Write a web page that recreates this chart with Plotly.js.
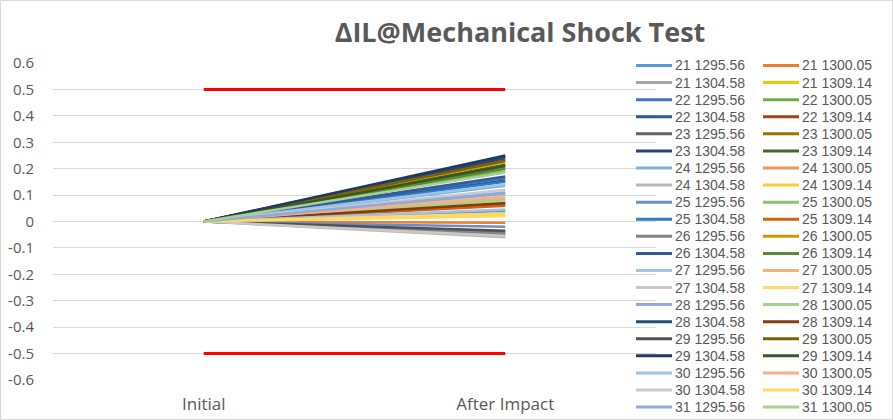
<!DOCTYPE html>
<html>
<head>
<meta charset="utf-8">
<script src="https://cdn.plot.ly/plotly-3.0.1.min.js"></script>
<style>
html,body{margin:0;padding:0;background:#fff;}
#chart{width:893px;height:420px;}
</style>
</head>
<body>
<div id="chart"></div>
<script>
// ---- data ----
const categories = ["Initial", "After Impact"];
const seriesNames = [
  "21 1295.56","21 1300.05","21 1304.58","21 1309.14",
  "22 1295.56","22 1300.05","22 1304.58","22 1309.14",
  "23 1295.56","23 1300.05","23 1304.58","23 1309.14",
  "24 1295.56","24 1300.05","24 1304.58","24 1309.14",
  "25 1295.56","25 1300.05","25 1304.58","25 1309.14",
  "26 1295.56","26 1300.05","26 1304.58","26 1309.14",
  "27 1295.56","27 1300.05","27 1304.58","27 1309.14",
  "28 1295.56","28 1300.05","28 1304.58","28 1309.14",
  "29 1295.56","29 1300.05","29 1304.58","29 1309.14",
  "30 1295.56","30 1300.05","30 1304.58","30 1309.14",
  "31 1295.56","31 1300.05"
];
const initialValues = [
  0,0,0,0, 0,0,0,0, 0,0,0,0, 0,0,0,0, 0,0,0,0,
  0,0,0,0, 0,0,0,0, 0,0,0,0, 0,0,0,0, 0,0,0,0, 0,0
];
const afterImpactValues = [
  0.04, -0.005, -0.05, 0.03,
  0.165, 0.205, 0.155, 0.065,
  -0.04, 0.235, 0.24, 0.215,
  0.135, 0.085, -0.06, 0.025,
  -0.02, 0.19, 0.15, 0.06,
  -0.045, 0.225, 0.17, 0.2,
  0.14, 0.09, 0.12, 0.02,
  0.105, 0.08, 0.245, 0.07,
  -0.035, 0.23, 0.25, 0.21,
  0.045, 0.095, -0.055, 0.03,
  0.11, 0.185
];
const upperLimit = [0.5, 0.5];
const lowerLimit = [-0.5, -0.5];
const yTickVals = [-0.6,-0.5,-0.4,-0.3,-0.2,-0.1,0,0.1,0.2,0.3,0.4,0.5,0.6];
const yTickText = ["-0.6","-0.5","-0.4","-0.3","-0.2","-0.1","0","0.1","0.2","0.3","0.4","0.5","0.6"];

// ---- styles ----
const palette = [
  "#5B9BD5","#ED7D31","#A5A5A5","#FFC000","#4472C4","#70AD47",
  "#255E91","#9E480E","#636363","#997300","#264478","#43682B",
  "#7CAFDD","#F1975A","#B7B7B7","#FFCD33","#698ED0","#8CC168",
  "#327DC2","#D26012","#848484","#CC9A00","#335AA1","#5A8A39",
  "#9DC3E6","#F4B183","#C9C9C9","#FFD966","#8FAADC","#A9D18E",
  "#1F4E79","#843C0C","#525252","#7F6000","#203864","#385723",
  "#9DC3E6","#F4B183","#C9C9C9","#FFD966","#8FAADC","#A9D18E"
];
const W = 893, H = 420;
const M = {l:53, r:237, t:63, b:40};
const pw = W - M.l - M.r, ph = H - M.t - M.b;
const px2x = p => (p - M.l) / pw;
const py2y = p => (H - M.b - p) / ph;
const FONT = "'Open Sans', sans-serif";
const LEGEND_FONT = "'Liberation Sans', Arial, sans-serif";
const GRAY = "#595959";

const traces = seriesNames.map((n, i) => ({
  type: "scatter", mode: "lines", name: n,
  x: categories, y: [initialValues[i], afterImpactValues[i]],
  line: {color: palette[i], width: 2.5},
  showlegend: false, hoverinfo: "skip"
}));
traces.push({type:"scatter", mode:"lines", name:"Upper limit", x:categories, y:upperLimit,
  line:{color:"#FF0000", width:3}, showlegend:false, hoverinfo:"skip"});
traces.push({type:"scatter", mode:"lines", name:"Lower limit", x:categories, y:lowerLimit,
  line:{color:"#FF0000", width:3}, showlegend:false, hoverinfo:"skip"});

// manual two-column legend
const shapes = [];
const annotations = [];
const colX = [636, 763], rowY0 = 65.5, rowH = 17.08, sampleLen = 36;
seriesNames.forEach((n, i) => {
  const col = i % 2, row = Math.floor(i / 2);
  const x0 = colX[col], yy = rowY0 + row * rowH;
  shapes.push({type:"line", xref:"paper", yref:"paper",
    x0:px2x(x0), x1:px2x(x0 + sampleLen), y0:py2y(yy), y1:py2y(yy),
    line:{color:palette[i], width:3}, layer:"above"});
  annotations.push({xref:"paper", yref:"paper", x:px2x(x0 + sampleLen + 2), y:py2y(yy),
    xanchor:"left", yanchor:"middle", text:n, showarrow:false, borderpad:0,
    font:{family:LEGEND_FONT, size:14, color:GRAY}});
});
// chart border
shapes.push({type:"rect", xref:"paper", yref:"paper",
  x0:px2x(0.5), x1:px2x(W-0.5), y0:py2y(H-0.5), y1:py2y(0.5),
  line:{color:"#D9D9D9", width:1}, fillcolor:"rgba(0,0,0,0)", layer:"below"});

const layout = {
  width: W, height: H,
  margin: M,
  paper_bgcolor: "#fff", plot_bgcolor: "#fff",
  showlegend: false,
  title: {text: "ΔIL@Mechanical Shock Test", x: 520 / W, xanchor: "center",
    y: 1 - 33 / H, yanchor: "middle",
    font: {family: FONT, size: 27, color: GRAY, weight: 700}},
  xaxis: {type: "category", range: [-0.5, 1.5], showgrid: false, zeroline: false,
    showline: false, ticks: "", ticklabelstandoff: 12,
    tickfont: {family: FONT, size: 17, color: GRAY}},
  yaxis: {range: [-0.6, 0.6], tickvals: yTickVals, ticktext: yTickText,
    showgrid: true, gridcolor: "#D9D9D9", gridwidth: 1, zeroline: false,
    showline: false, ticks: "", ticklabelstandoff: 18,
    tickfont: {family: FONT, size: 15, color: GRAY}},
  shapes: shapes,
  annotations: annotations
};

Plotly.newPlot("chart", traces, layout, {staticPlot: true, displayModeBar: false});
</script>
</body>
</html>
